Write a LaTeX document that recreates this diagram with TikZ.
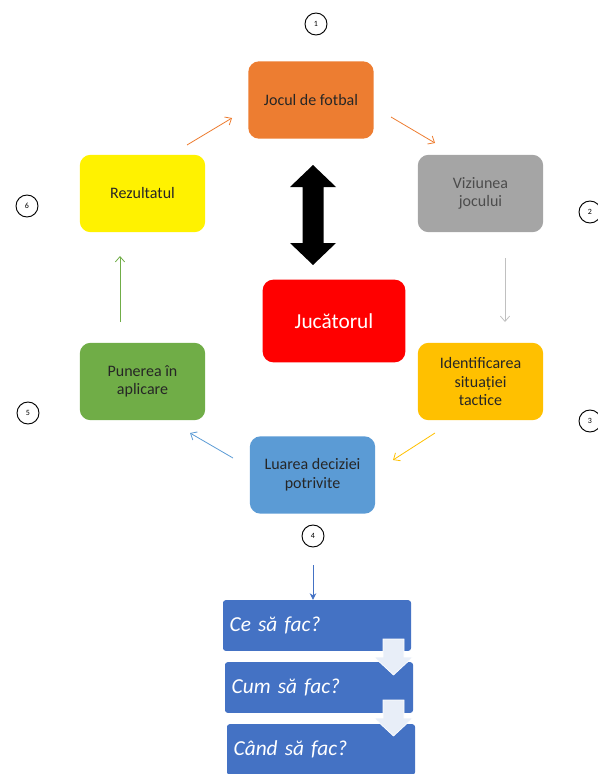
\documentclass[tikz,border=0pt]{standalone}
\usepackage{fontspec}
\setmainfont{Carlito}
\usetikzlibrary{arrows.meta}
\definecolor{orangeJ}{HTML}{ED7D31}
\definecolor{grisV}{HTML}{A5A5A5}
\definecolor{galbenI}{HTML}{FFC000}
\definecolor{albastruL}{HTML}{5B9BD5}
\definecolor{verdeP}{HTML}{70AD47}
\definecolor{albastruC}{HTML}{4472C4}
\definecolor{albS}{HTML}{E8EEF8}

\begin{document}
\begin{tikzpicture}[x=0.75pt,y=-0.75pt]
\useasboundingbox (0,0) rectangle (598,774);
\tikzstyle{lien}=[-{Straight Barb[length=4pt,width=7pt]},line width=0.6pt]
\tikzset{etape/.style={fill=#1,rounded corners=8pt,minimum width=94pt,minimum height=58pt,
  align=center,font=\fontsize{12}{14}\selectfont,text=black!85},
etape/.default={white},
numero/.style={draw,circle,line width=0.7pt,minimum size=16.5pt,inner sep=0pt,font=\fontsize{6}{6}\selectfont},
intrebare/.style={fill=albastruC,rounded corners=2pt,minimum height=38pt,text width=131pt,inner sep=5pt,align=left,
  text=white,font=\fontsize{16}{18}\selectfont\itshape}}

% cercul de etape
\node[etape=orangeJ] (A) at (311,100) {Jocul de fotbal};
\node[etape=grisV,text=black!70] (A1) at (480.5,193.5) {Viziunea\\jocului};
\node[etape=galbenI] (A2) at (480.5,381.5) {Identificarea\\situației\\tactice};
\node[etape=albastruL] (A3) at (312.5,475) {Luarea deciziei\\potrivite};
\node[etape=verdeP] (A4) at (142.5,381.5) {Punerea în\\aplicare};
\node[etape=yellow] (A5) at (142.5,193.5) {Rezultatul};
\node[etape=red,minimum width=107pt,minimum height=62pt,text=white,font=\fontsize{16}{18}\selectfont] (B) at (334,321) {Jucătorul};

% numerele
\node[numero] (N1) at (316,24) {1};
\node[numero] (N2) at (590,212) {2};
\node[numero] (N3) at (590,421) {3};
\node[numero] (N4) at (313,536) {4};
\node[numero] (N5) at (28,413) {5};
\node[numero] (N6) at (27,206) {6};

% capetele sagetilor
\coordinate (s1) at (187,145); \coordinate (t1) at (232,118);
\coordinate (s2) at (391,117); \coordinate (t2) at (435,143);
\coordinate (s3) at (505,258); \coordinate (t3) at (505,322);
\coordinate (s4) at (435,433); \coordinate (t4) at (393,460);
\coordinate (s5) at (233,458); \coordinate (t5) at (190,433);
\coordinate (s6) at (120,322); \coordinate (t6) at (120,256);
\coordinate (s7) at (313,565);

\draw[lien,orangeJ] (s1) -- (t1);
\draw[lien,orangeJ] (s2) -- (t2);
\draw[lien,grisV!70] (s3) -- (t3);
\draw[lien,galbenI] (s4) -- (t4);
\draw[lien,albastruL] (s5) -- (t5);
\draw[lien,verdeP] (s6) -- (t6);

% sageata dubla
\fill[black] (313,165) -- (336,187) -- (323.5,187) -- (323.5,243) -- (336,243) -- (313,265)
  -- (290,243) -- (302.5,243) -- (302.5,187) -- (290,187) -- cycle;

% intrebarile
\node[intrebare] (C1) at (317,625.5) {Ce să fac?};
\node[intrebare] (C2) at (319,687.5) {Cum să fac?};
\node[intrebare] (C3) at (321,749.5) {Când să fac?};
\draw[-{Stealth[length=5pt,width=5pt]},albastruC,line width=0.7pt] (s7) -- (C1.north -| s7);

\foreach \y in {639,700}{
  \fill[albS,draw=white,line width=0.5pt] (383,\y) -- (404,\y) -- (404,\y+18) -- (413,\y+18)
    -- (393.5,\y+36) -- (374,\y+18) -- (383,\y+18) -- cycle;
}

\end{tikzpicture}
\end{document}
